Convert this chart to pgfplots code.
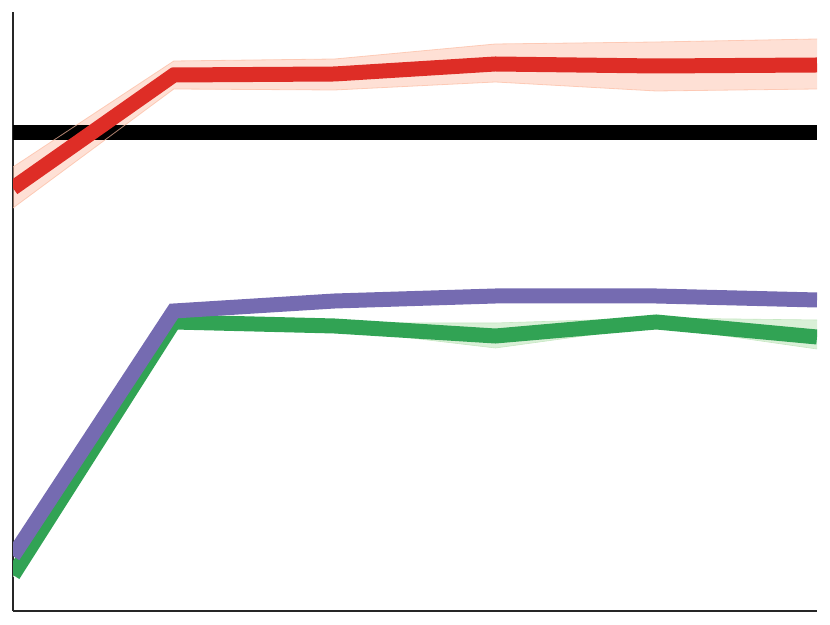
\documentclass[border=0pt]{standalone}
\usepackage{pgfplots}
\pgfplotsset{compat=1.18}
\usepgfplotslibrary{fillbetween}
\definecolor{redLine}{HTML}{DE2D26}
\definecolor{redBand}{HTML}{FCBBA1}
\definecolor{purpLine}{HTML}{756BB1}
\definecolor{greenLine}{HTML}{31A354}
\definecolor{greenBand}{HTML}{A1D99B}

\begin{document}
\begin{tikzpicture}
\begin{axis}[
    scale only axis,
    width=804bp,
    height=599bp,
    xmin=0, xmax=5,
    ymin=0, ymax=599,
    axis x line=bottom,
    axis y line=left,
    axis line style={-, line width=1.5bp, black!85},
    xtick=\empty,
    ytick=\empty,
]
% baseline
\addplot[black, line width=15bp] coordinates {(0,478) (5,478)};

% red band and mean
\addplot[name path=rU, draw=redBand, draw opacity=0.7, line width=0.8bp, forget plot] coordinates {
    (0,444) (1,550) (2,552) (3,567) (4,569) (5,572)};
\addplot[name path=rL, draw=redBand, draw opacity=0.7, line width=0.8bp, forget plot] coordinates {
    (0,403) (1,522) (2,521) (3,529) (4,520) (5,522)};
\addplot[redBand, fill opacity=0.45, draw=none] fill between[of=rU and rL];
\addplot[redLine, line width=15bp] coordinates {
    (0,423) (1,536) (2,537) (3,547) (4,545) (5,546)};

% green band and mean
\addplot[name path=gU, draw=greenBand!60, line width=0.6bp, forget plot] coordinates {
    (0,38) (1,291) (2,288) (3,288) (4,293) (5,291)};
\addplot[name path=gL, draw=greenBand!60, line width=0.6bp, forget plot] coordinates {
    (0,34) (1,287) (2,282) (3,263) (4,285) (5,262)};
\addplot[greenBand, fill opacity=0.4, draw=none] fill between[of=gU and gL];
\addplot[greenLine, line width=15bp] coordinates {
    (0,36) (1,289) (2,285) (3,275) (4,289) (5,274)};

% purple mean
\addplot[purpLine, line width=15bp] coordinates {
    (0,55) (1,300) (2,310) (3,315) (4,315) (5,311)};
\end{axis}
\pgfresetboundingbox
\path[use as bounding box] ([shift={(-13bp,-14bp)}]current axis.south west)
    rectangle ([shift={(13bp,12bp)}]current axis.north east);
\end{tikzpicture}
\end{document}
